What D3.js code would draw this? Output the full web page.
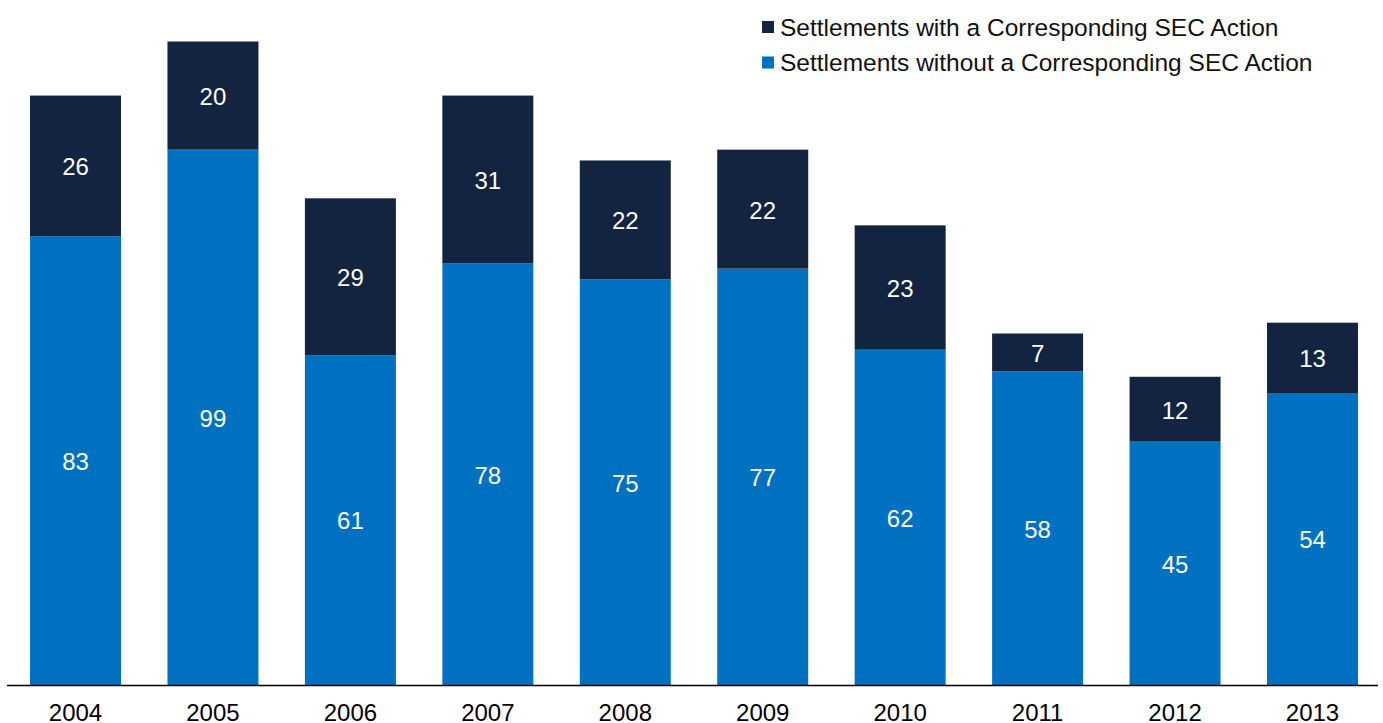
<!DOCTYPE html>
<html>
<head>
<meta charset="utf-8">
<script src="https://cdn.jsdelivr.net/npm/d3@7"></script>
<style>
  html, body { margin: 0; padding: 0; background: #fff; }
  svg { display: block; font-family: "Liberation Sans", Arial, sans-serif; }
</style>
</head>
<body>
<svg id="chart" width="1383" height="723"></svg>
<script>
// Settlements by year, split by whether a corresponding SEC action exists
const years = ["2004", "2005", "2006", "2007", "2008", "2009", "2010", "2011", "2012", "2013"];
const withoutSEC = [83, 99, 61, 78, 75, 77, 62, 58, 45, 54];
const withSEC = [26, 20, 29, 31, 22, 22, 23, 7, 12, 13];
const seriesNames = [
  "Settlements with a Corresponding SEC Action",
  "Settlements without a Corresponding SEC Action"
];
const colors = { with: "#12243f", without: "#0070c0" };

const svg = d3.select("#chart");
const baseY = 685;

const x = d3.scaleBand()
  .domain(years)
  .range([7, 1381])
  .paddingInner(0.338)
  .paddingOuter(0.1675);

const y = d3.scaleLinear()
  .domain([0, 119])
  .range([baseY, 41.5]);

const rows = years.map((yr, i) => ({ year: yr, without: withoutSEC[i], with: withSEC[i] }));
const stacked = d3.stack().keys(["without", "with"])(rows);

const layers = svg.append("g").selectAll("g")
  .data(stacked)
  .join("g")
  .attr("fill", d => colors[d.key]);

layers.selectAll("rect")
  .data(d => d)
  .join("rect")
  .attr("x", d => x(d.data.year))
  .attr("width", x.bandwidth())
  .attr("y", d => y(d[1]))
  .attr("height", d => y(d[0]) - y(d[1]));

// Value labels centred in each segment
layers.selectAll("text")
  .data(d => d.map(v => ({ v, key: d.key })))
  .join("text")
  .attr("x", d => x(d.v.data.year) + x.bandwidth() / 2)
  .attr("y", d => (y(d.v[0]) + y(d.v[1])) / 2 + 1)
  .attr("dy", "0.35em")
  .attr("text-anchor", "middle")
  .attr("fill", "#fff")
  .attr("font-size", 24)
  .text(d => d.v.data[d.key]);

// Category axis
const xAxis = svg.append("g")
  .attr("transform", `translate(0,${baseY})`)
  .call(d3.axisBottom(x).tickSize(0).tickPadding(19));
xAxis.select(".domain")
  .attr("d", "M7,0.5H1378")
  .attr("stroke", "#000")
  .attr("stroke-width", 1.5);
xAxis.selectAll("text")
  .attr("font-size", 24)
  .attr("fill", "#000")
  .attr("font-family", "Liberation Sans, Arial, sans-serif");

// Legend
const legend = svg.append("g").attr("transform", "translate(762,21)");
const items = legend.selectAll("g")
  .data([
    { name: seriesNames[0], color: colors.with },
    { name: seriesNames[1], color: colors.without }
  ])
  .join("g")
  .attr("transform", (d, i) => `translate(0,${i * 35.5})`);
items.append("rect")
  .attr("width", 12).attr("height", 12)
  .attr("fill", d => d.color);
items.append("text")
  .attr("x", 18)
  .attr("y", 6)
  .attr("dy", "0.35em")
  .attr("font-size", 24.5)
  .attr("fill", "#111")
  .text(d => d.name);
</script>
</body>
</html>
